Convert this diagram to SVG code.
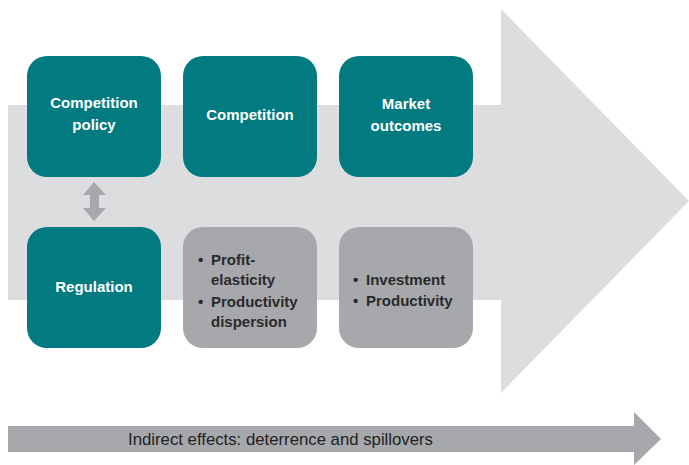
<svg xmlns="http://www.w3.org/2000/svg" width="689" height="465" viewBox="0 0 689 465">
<style>
.teal{fill:#017a80}
.grey{fill:#a7a8ab}
.wt{font-family:"Liberation Sans",Arial,sans-serif;font-weight:bold;font-size:15px;fill:#ffffff;text-anchor:middle}
.dt{font-family:"Liberation Sans",Arial,sans-serif;font-weight:bold;font-size:15px;fill:#2a2a2c}
.bt{font-family:"Liberation Sans",Arial,sans-serif;font-size:17px;fill:#222224}
</style>
<rect width="689" height="465" fill="#ffffff"/>
<g id="main-arrow">
<polygon points="8,105 501,105 501,9 689,201 501,393 501,300 8,300" fill="#dcdddf"/>
</g>
<g id="competition-policy">
<rect class="teal" x="27" y="56" width="134" height="121" rx="20"/>
<text class="wt" x="94" y="108">Competition</text>
<text class="wt" x="94" y="130">policy</text>
</g>
<g id="competition">
<rect class="teal" x="183" y="56" width="134" height="121" rx="20"/>
<text class="wt" x="250" y="120">Competition</text>
</g>
<g id="market-outcomes">
<rect class="teal" x="339" y="56" width="134" height="121" rx="20"/>
<text class="wt" x="406" y="109">Market</text>
<text class="wt" x="406" y="131">outcomes</text>
</g>
<g id="regulation">
<rect class="teal" x="27" y="227" width="134" height="121" rx="20"/>
<text class="wt" x="94" y="292">Regulation</text>
</g>
<g id="competition-measures">
<rect class="grey" x="183" y="227" width="134" height="121" rx="20"/>
<text class="dt" x="198" y="265">• <tspan x="211">Profit-</tspan></text>
<text class="dt" x="211" y="285">elasticity</text>
<text class="dt" x="198" y="307">• <tspan x="211">Productivity</tspan></text>
<text class="dt" x="211" y="327">dispersion</text>
</g>
<g id="outcome-measures">
<rect class="grey" x="339" y="227" width="134" height="121" rx="20"/>
<text class="dt" x="353" y="285">• <tspan x="366">Investment</tspan></text>
<text class="dt" x="353" y="306">• <tspan x="366">Productivity</tspan></text>
</g>
<g id="connectors">
<polygon class="grey" points="94,182 106,195 99,195 99,208 106,208 94,221 83,208 90,208 90,195 83,195"/>
</g>
<g id="indirect-effects">
<polygon class="grey" points="8,426 634,426 634,412 661,439 634,465 634,452 8,452"/>
<text class="bt" x="128" y="445" textLength="305" lengthAdjust="spacingAndGlyphs">Indirect effects: deterrence and spillovers</text>
</g>
</svg>
